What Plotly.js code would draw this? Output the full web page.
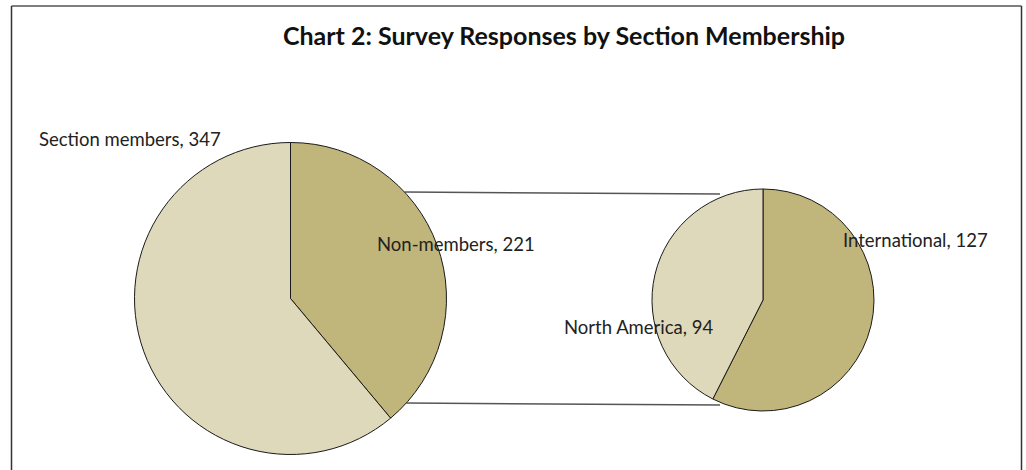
<!DOCTYPE html>
<html>
<head>
<meta charset="utf-8">
<script src="https://cdn.plot.ly/plotly-3.0.1.min.js"></script>
<style>html,body{margin:0;padding:0;background:#fff;}#chart{width:1026px;height:470px;}</style>
</head>
<body>
<div id="chart"></div>
<script>
// Data
const mainLabels = ["Non-members", "Section members"];
const mainValues = [221, 347];
const subLabels = ["International", "North America"];
const subValues = [127, 94];
const lightColor = "#DFD9BB";
const tanColor = "#C0B57A";

const W = 1026, H = 470;
const px = x => x / W;
const py = y => 1 - y / H;

// Geometry (pixels)
const L = {cx: 290.5, cy: 298.5, r: 156};
const R = {cx: 763, cy: 300, r: 111};

function dom(g) {
  return {x: [px(g.cx - g.r), px(g.cx + g.r)], y: [py(g.cy + g.r), py(g.cy - g.r)]};
}

const pieStyle = {
  type: "pie", sort: false, direction: "clockwise", rotation: 0,
  textinfo: "none", hoverinfo: "label+value", showlegend: false
};

const traces = [
  Object.assign({}, pieStyle, {labels: mainLabels, values: mainValues, domain: dom(L),
    marker: {colors: [tanColor, lightColor], line: {color: "#1a1a1a", width: 1}}}),
  Object.assign({}, pieStyle, {labels: subLabels, values: subValues, domain: dom(R),
    marker: {colors: [tanColor, lightColor], line: {color: "#1a1a1a", width: 1}}})
];

// Connector lines: from the left pie edge to the right pie
function leftX(y) { return L.cx + Math.sqrt(L.r * L.r - (y - L.cy) * (y - L.cy)); }
const yTop1 = 192, yTop2 = 194, yBot1 = 403, yBot2 = 405;
const xRight = 720;
const lineStyle = {color: "#555", width: 1.5};
const shapes = [
  {type: "line", xref: "paper", yref: "paper", x0: px(leftX(yTop1)), y0: py(yTop1), x1: px(xRight), y1: py(yTop2), line: lineStyle, layer: "below"},
  {type: "line", xref: "paper", yref: "paper", x0: px(leftX(yBot1)), y0: py(yBot1), x1: px(xRight), y1: py(yBot2), line: lineStyle, layer: "below"},
  // frame
  {type: "line", xref: "paper", yref: "paper", x0: px(11.5), y0: py(6), x1: px(1021.5), y1: py(6), line: {color: "#555", width: 1.5}},
  {type: "line", xref: "paper", yref: "paper", x0: px(11.5), y0: py(6), x1: px(11.5), y1: py(470), line: {color: "#333", width: 1.5}},
  {type: "line", xref: "paper", yref: "paper", x0: px(1021.5), y0: py(6), x1: px(1021.5), y1: py(470), line: {color: "#333", width: 1.5}}
];

const labFont = {family: "Lato, 'Open Sans', sans-serif", size: 18.5, color: "#222"};
function ann(text, x, y) {
  return {text: text, xref: "paper", yref: "paper", x: px(x), y: py(y), xanchor: "left", yanchor: "middle", showarrow: false, font: labFont};
}
const annotations = [
  ann(mainLabels[1] + ", " + mainValues[1], 37, 139),
  ann(mainLabels[0] + ", " + mainValues[0], 375, 244),
  ann(subLabels[0] + ", " + subValues[0], 841, 240),
  ann(subLabels[1] + ", " + subValues[1], 562, 327)
];

const layout = {
  width: W, height: H,
  margin: {l: 0, r: 0, t: 0, b: 0},
  paper_bgcolor: "#fff",
  title: {text: "<b>Chart 2: Survey Responses by Section Membership</b>", x: px(564), xanchor: "center", y: py(36), yanchor: "middle",
    font: {family: "Lato, 'Open Sans', sans-serif", size: 25, color: "#111"}},
  shapes: shapes,
  annotations: annotations
};

Plotly.newPlot("chart", traces, layout, {displayModeBar: false, staticPlot: true});
</script>
</body>
</html>
